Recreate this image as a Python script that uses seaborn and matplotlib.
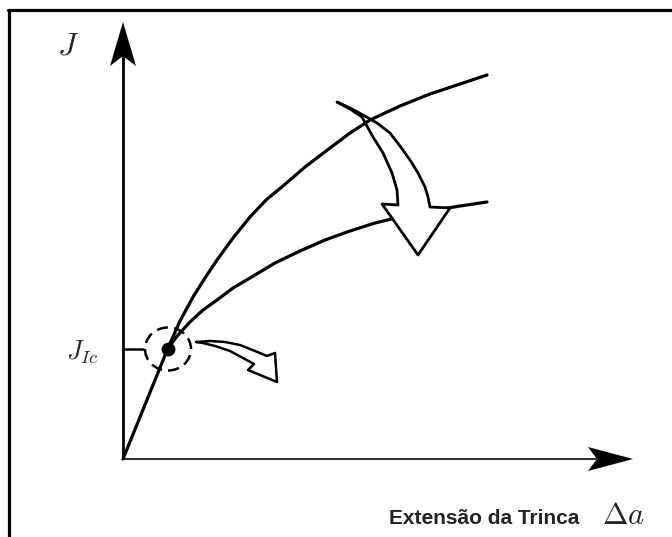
import matplotlib.pyplot as plt
import seaborn as sns
from matplotlib.patches import Ellipse
from matplotlib.lines import Line2D

# J-R curve schematic (arbitrary units)
blunt_da = [0.0, 0.45]
blunt_j = [0.0, 1.11]

upper_da = [0.45, 0.57, 0.70, 0.82, 0.94, 1.10, 1.27, 1.43, 1.60, 1.82,
            2.07, 2.27, 2.47, 2.77, 3.07, 3.37, 3.64]
upper_j = [1.11, 1.38, 1.62, 1.81, 1.99, 2.21, 2.42, 2.59, 2.73, 2.92,
           3.11, 3.26, 3.39, 3.53, 3.65, 3.75, 3.84]

lower_da = [0.45, 0.55, 0.67, 0.80, 0.94, 1.10, 1.27, 1.52, 1.77, 2.02,
            2.27, 2.52, 2.77, 3.07, 3.37, 3.64]
lower_j = [1.11, 1.24, 1.37, 1.49, 1.59, 1.71, 1.81, 1.96, 2.08, 2.19,
           2.28, 2.36, 2.42, 2.48, 2.53, 2.57]

jic_da = 0.45
jic_j = 1.10

# outlines of the two hollow curved arrows
big_arrow_x = [2.14, 2.27, 2.40, 2.54, 2.67, 2.77, 2.87, 2.95, 3.02, 3.05, 3.07,
               3.27, 2.95, 2.59, 2.75, 2.74, 2.69, 2.60, 2.50, 2.39, 2.27]
big_arrow_y = [3.57, 3.51, 3.44, 3.36, 3.26, 3.13, 2.99, 2.86, 2.72, 2.62, 2.52,
               2.51, 2.04, 2.55, 2.54, 2.69, 2.86, 3.06, 3.22, 3.42, 3.50]
small_arrow_x = [0.73, 0.87, 1.02, 1.17, 1.32, 1.44, 1.52, 1.54, 1.25, 1.31,
                 1.20, 1.07, 0.92, 0.80]
small_arrow_y = [1.17, 1.18, 1.17, 1.14, 1.08, 1.03, 1.06, 0.77, 0.89, 0.95,
                 1.01, 1.08, 1.13, 1.16]

sns.set_style("white")
plt.rcParams['mathtext.fontset'] = 'cm'

fig = plt.figure(figsize=(6.72, 5.37), dpi=100)
ax = fig.add_axes([0, 0, 1, 1])
ax.set_xlim(-1.23, 5.49)
ax.set_ylim(-0.78, 4.59)
ax.axis('off')

# axes with arrow heads
ax.plot([0, 0], [0, 4.05], color='black', lw=2.0, solid_capstyle='butt')
ax.plot([0, 4.75], [0, 0], color='#333333', lw=1.5, solid_capstyle='butt')
ax.fill([0, -0.13, 0, 0.13], [4.37, 3.93, 4.03, 3.93], color='black', lw=0)
ax.fill([5.10, 4.65, 4.74, 4.65], [0, 0.12, 0, -0.12], color='black', lw=0)

# curves (upper one passes over the big arrow, lower one goes under it)
lw = 2.3
for xs, ys, z in [(blunt_da, blunt_j, 3), (upper_da, upper_j, 7), (lower_da, lower_j, 3)]:
    sns.lineplot(x=xs, y=ys, color='black', lw=lw, sort=False, ax=ax, zorder=z,
                 legend=False, solid_joinstyle='round', solid_capstyle='round')

# J_Ic marker
ax.plot([0, 0.20], [jic_j, jic_j], color='black', lw=1.8)
ax.scatter([jic_da], [jic_j], s=80, color='black', zorder=8)
ax.add_patch(Ellipse((jic_da, jic_j), 0.46, 0.43, fill=False, ec='black',
                     lw=1.8, ls=(0, (4.5, 2.5))))

# hollow arrows
ax.fill(big_arrow_x, big_arrow_y, facecolor='white', edgecolor='black',
        lw=2.0, joinstyle='round', zorder=6)
ax.fill(small_arrow_x, small_arrow_y, facecolor='white', edgecolor='black',
        lw=1.8, joinstyle='round', zorder=6)

# labels
ax.text(-0.55, 4.13, r'$J$', fontsize=23, ha='center', va='center')
ax.text(-0.41, 1.07, r'$J_{Ic}$', fontsize=19, ha='center', va='center')
ax.text(3.61, -0.59, 'Extensão da Trinca', fontsize=15, fontweight='bold',
        family='Liberation Sans', color='#222222', ha='center', va='center')
ax.text(5.00, -0.57, r'$\Delta a$', fontsize=22, ha='center', va='center')

# frame (left and top edges)
fig.add_artist(Line2D([0.012, 1.0], [0.981, 0.981], color='black', lw=2.3,
                      transform=fig.transFigure))
fig.add_artist(Line2D([0.0134, 0.0134], [0.0, 0.981], color='black', lw=2.3,
                      transform=fig.transFigure))

plt.savefig('out.png', dpi=100)
